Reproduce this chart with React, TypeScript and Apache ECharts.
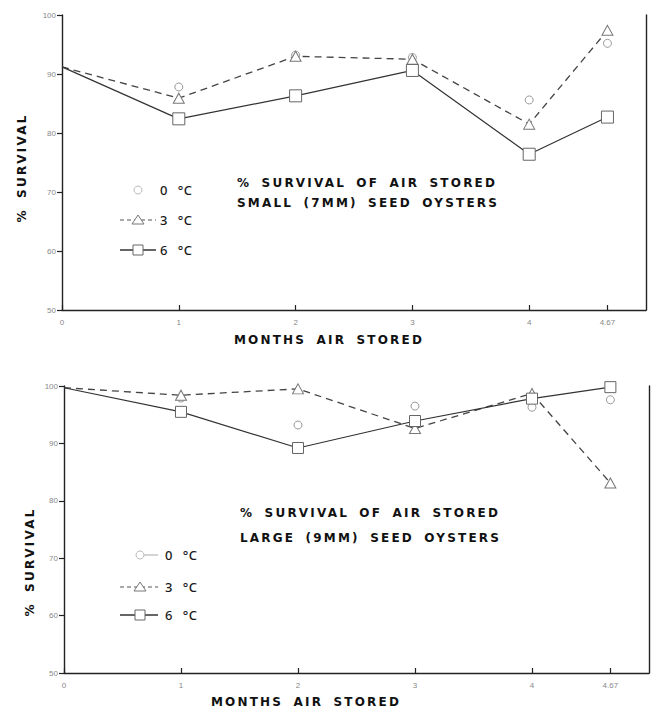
import React, { useEffect, useRef } from "react";
import * as echarts from "echarts";

// Months air stored (x positions) and their tick labels
const months = [0, 1, 2, 3, 4, 4.67];
const monthLabels = ["0", "1", "2", "3", "4", "4.67"];

// Small (7 mm) seed oysters, % survival
const small0C: (number | null)[] = [null, 87.8, 93.2, 92.8, 85.6, 95.2];
const small3C: (number | null)[] = [91.2, 85.9, 93.0, 92.5, 81.5, 97.4];
const small6C: (number | null)[] = [91.2, 82.4, 86.3, 90.6, 76.4, 82.7];

// Large (9 mm) seed oysters, % survival
const large0C: (number | null)[] = [null, 97.9, 93.2, 96.5, 96.3, 97.6];
const large3C: (number | null)[] = [99.7, 98.4, 99.5, 92.6, 98.7, 83.1];
const large6C: (number | null)[] = [99.7, 95.5, 89.2, 93.9, 97.8, 99.8];

const legendLabels = ["0 °C", "3 °C", "6 °C"];
const titlesTop = ["% SURVIVAL OF AIR STORED", "SMALL (7MM) SEED OYSTERS"];
const titlesBottom = ["% SURVIVAL OF AIR STORED", "LARGE (9MM) SEED OYSTERS"];
const xTitle = "MONTHS AIR STORED";
const yTitle = "% SURVIVAL";

const TITLE_FONT = "DejaVu Sans";
const LEGEND_FONT = "Noto Sans";
const TICK_FONT = "Liberation Sans";

function points(vals: (number | null)[]) {
  const out: any[] = [];
  vals.forEach((v, i) => {
    if (v == null) return;
    if (i === 0) out.push({ value: [months[i], v], symbol: "none" });
    else out.push([months[i], v]);
  });
  return out;
}

function xAxis(gridIndex: number) {
  return {
    type: "value",
    gridIndex,
    min: 0,
    max: 5,
    splitLine: { show: false },
    axisLine: { show: true, lineStyle: { color: "#222", width: 1.4 } },
    axisTick: {
      show: true,
      inside: true,
      length: 5,
      customValues: months,
      lineStyle: { color: "#222", width: 1.2 },
    },
    axisLabel: {
      show: true,
      customValues: months,
      margin: 8,
      color: "#888",
      fontSize: 8,
      fontFamily: TICK_FONT,
      formatter: (v: number) => {
        const i = months.findIndex((m) => Math.abs(m - v) < 1e-6);
        return i >= 0 ? monthLabels[i] : "";
      },
    },
  };
}

function yAxes(gridIndex: number) {
  return [
    {
      type: "value",
      gridIndex,
      position: "left",
      min: 50,
      max: 100,
      interval: 10,
      splitLine: { show: false },
      axisLine: { show: true, lineStyle: { color: "#222", width: 1.4 } },
      axisTick: { show: true, inside: false, length: 5, lineStyle: { color: "#222", width: 1.2 } },
      axisLabel: { margin: 6, color: "#888", fontSize: 8, fontFamily: TICK_FONT },
    },
    {
      type: "value",
      gridIndex,
      position: "right",
      min: 50,
      max: 100,
      splitLine: { show: false },
      axisLine: { show: true, lineStyle: { color: "#222", width: 1.4 } },
      axisTick: { show: false },
      axisLabel: { show: false },
    },
  ];
}

function seriesFor(xi: number, yi: number, d0: any, d3: any, d6: any, sq: number) {
  return [
    {
      type: "line",
      name: "0 °C",
      xAxisIndex: xi,
      yAxisIndex: yi,
      data: points(d0),
      symbol: "circle",
      symbolSize: 8,
      showAllSymbol: true,
      lineStyle: { width: 0, opacity: 0 },
      itemStyle: { color: "#fff", borderColor: "#999", borderWidth: 1 },
      z: 2,
    },
    {
      type: "line",
      name: "3 °C",
      xAxisIndex: xi,
      yAxisIndex: yi,
      data: points(d3),
      symbol: "triangle",
      symbolSize: [11, 10],
      showAllSymbol: true,
      lineStyle: { color: "#444", width: 1.3, type: [7, 5] },
      itemStyle: { color: "#fff", borderColor: "#777", borderWidth: 1 },
      z: 3,
    },
    {
      type: "line",
      name: "6 °C",
      xAxisIndex: xi,
      yAxisIndex: yi,
      data: points(d6),
      symbol: "rect",
      symbolSize: sq,
      showAllSymbol: true,
      lineStyle: { color: "#333", width: 1.2 },
      itemStyle: { color: "#fff", borderColor: "#666", borderWidth: 1 },
      z: 4,
    },
  ];
}

function legendGraphics(sx: number, x0: number, x1: number, tx: number, rows: number[], circleLine: boolean) {
  const g: any[] = [];
  // 0 °C
  if (circleLine) {
    g.push({ type: "line", shape: { x1: sx + 4, y1: rows[0], x2: x1, y2: rows[0] }, style: { stroke: "#aaa", lineWidth: 1 } });
  }
  g.push({ type: "circle", shape: { cx: sx, cy: rows[0], r: 4 }, style: { fill: "#fff", stroke: "#bbb", lineWidth: 1 } });
  // 3 °C
  g.push({ type: "line", shape: { x1: x0, y1: rows[1], x2: x1, y2: rows[1] }, style: { stroke: "#555", lineWidth: 1.2, lineDash: [4, 3] } });
  g.push({
    type: "polygon",
    shape: { points: [[sx, rows[1] - 5], [sx + 6, rows[1] + 4], [sx - 6, rows[1] + 4]] },
    style: { fill: "#fff", stroke: "#777", lineWidth: 1 },
  });
  // 6 °C
  g.push({ type: "line", shape: { x1: x0, y1: rows[2], x2: x1, y2: rows[2] }, style: { stroke: "#333", lineWidth: 1.3 } });
  g.push({ type: "rect", shape: { x: sx - 5, y: rows[2] - 5, width: 10, height: 10 }, style: { fill: "#fff", stroke: "#666", lineWidth: 1 } });
  rows.forEach((y, i) => {
    g.push({
      type: "text",
      x: tx,
      y,
      style: {
        text: legendLabels[i],
        fill: "#1a1a1a",
        fontSize: 13,
        fontWeight: "500",
        fontFamily: LEGEND_FONT,
        textAlign: "left",
        textVerticalAlign: "middle",
      },
    });
  });
  return g;
}

function textEl(text: string, x: number, y: number, align: string, rotation = 0) {
  return {
    type: "text",
    x,
    y,
    rotation,
    style: {
      text,
      fill: "#111",
      fontSize: 12,
      fontWeight: "bold",
      fontFamily: TITLE_FONT,
      textAlign: align,
      textVerticalAlign: "middle",
    },
  };
}

export default function App() {
  const ref = useRef<HTMLDivElement>(null);
  useEffect(() => {
    if (!ref.current) return;
    const chart = echarts.init(ref.current, undefined, { renderer: "svg" });
    const option: any = {
      animation: false,
      backgroundColor: "#fff",
      grid: [
        { left: 62, top: 15, width: 584, height: 295 },
        { left: 64, top: 386, width: 585, height: 287 },
      ],
      xAxis: [xAxis(0), xAxis(1)],
      yAxis: [...yAxes(0), ...yAxes(1)],
      series: [
        ...seriesFor(0, 0, small0C, small3C, small6C, 12),
        ...seriesFor(1, 2, large0C, large3C, large6C, 11),
      ],
      graphic: [
        ...legendGraphics(138, 120, 156, 160, [190, 220, 250], false),
        ...legendGraphics(140, 120, 158, 165, [555, 587, 615], true),
        textEl(titlesTop[0], 237, 183, "left"),
        textEl(titlesTop[1], 237, 203, "left"),
        textEl(titlesBottom[0], 240, 513, "left"),
        textEl(titlesBottom[1], 240, 538, "left"),
        textEl(xTitle, 329, 340, "center"),
        textEl(xTitle, 306, 702, "center"),
        textEl(yTitle, 22, 168, "center", Math.PI / 2),
        textEl(yTitle, 30, 562, "center", Math.PI / 2),
      ],
    };
    chart.setOption(option);
    return () => chart.dispose();
  }, []);
  return (
    <>
      <style>{`#oyster text[style*="DejaVu"]{letter-spacing:2.2px;word-spacing:4px;}#oyster text[style*="Noto"]{word-spacing:6px;letter-spacing:0.5px;}`}</style>
      <div
        id="oyster"
        ref={ref}
        style={{ position: "absolute", left: 0, top: 0, width: 651, height: 710 }}
      />
    </>
  );
}
